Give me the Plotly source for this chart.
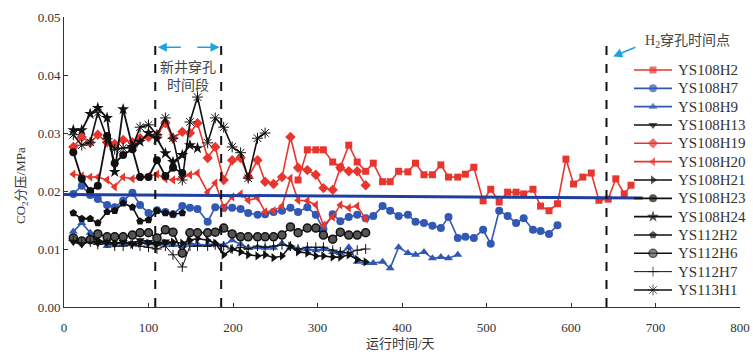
import plotly.graph_objects as go

# ---------------- data ----------------
days_a = [11, 21, 31, 40, 51, 60, 70, 81, 90, 100, 110, 120, 129, 140, 149, 158, 170, 179,
          189, 199, 209, 218, 229, 238, 248, 258, 268, 277, 288, 298, 307, 318, 327, 337, 347, 357]
days_b = [366, 377, 386, 396, 407, 416, 426, 436, 446, 455, 466, 475, 485, 496, 505, 515,
          525, 535, 544, 555, 564, 574, 584]

ys108h2_days = [277, 288, 298, 307, 318, 327, 337, 347, 357, 366, 377, 386, 396, 407, 416, 426,
                436, 446, 455, 466, 475, 485, 496, 505, 515, 525, 535, 544, 555, 564, 574, 584,
                594, 603, 614, 624, 633, 644, 653, 663, 671]
ys108h2 = [0.0219, 0.0271, 0.0271, 0.0271, 0.0250, 0.0241, 0.0279, 0.0250, 0.0234, 0.0248,
           0.0216, 0.0216, 0.0234, 0.0233, 0.0248, 0.0228, 0.0228, 0.0245, 0.0224, 0.0224,
           0.0229, 0.0241, 0.0183, 0.0203, 0.0181, 0.0198, 0.0198, 0.0195, 0.0203, 0.0174,
           0.0166, 0.0178, 0.0255, 0.0212, 0.0224, 0.0231, 0.0184, 0.0186, 0.0221, 0.0195, 0.0210]

ys108h7_days = days_a + days_b
ys108h7 = [0.0195, 0.0209, 0.0193, 0.0186, 0.0176, 0.0172, 0.0183, 0.0197, 0.0176, 0.0162,
           0.0167, 0.0164, 0.0160, 0.0174, 0.0171, 0.0169, 0.0147, 0.0172, 0.0171, 0.0171,
           0.0169, 0.0162, 0.0159, 0.0160, 0.0164, 0.0166, 0.0171, 0.0164, 0.0172, 0.0159,
           0.0134, 0.0160, 0.0148, 0.0155, 0.0159, 0.0153,
           0.0157, 0.0174, 0.0166, 0.0157, 0.0159, 0.0147, 0.0145, 0.0140, 0.0136, 0.0155,
           0.0119, 0.0121, 0.0119, 0.0133, 0.0109, 0.0166, 0.0157, 0.0145, 0.0153, 0.0133,
           0.0131, 0.0126, 0.0141]

ys108h9_days = days_a + days_b[:11]
ys108h9 = [0.0130, 0.0145, 0.0128, 0.0115, 0.0105, 0.0112, 0.0110, 0.0108, 0.0112, 0.0110,
           0.0108, 0.0110, 0.0107, 0.0105, 0.0110, 0.0108, 0.0107, 0.0110, 0.0107, 0.0115,
           0.0108, 0.0102, 0.0103, 0.0102, 0.0102, 0.0110, 0.0103, 0.0100, 0.0100, 0.0098,
           0.0100, 0.0095, 0.0093, 0.0103, 0.0078, 0.0076,
           0.0076, 0.0078, 0.0067, 0.0103, 0.0093, 0.0090, 0.0095, 0.0084, 0.0086, 0.0084, 0.0090]

ys108h13_days = days_a[:13]
ys108h13 = [0.0112, 0.0108, 0.0115, 0.0110, 0.0113, 0.0108, 0.0112, 0.0110, 0.0115, 0.0112,
            0.0110, 0.0113, 0.0110]

ys108h19_days = days_a
ys108h19 = [0.0276, 0.0293, 0.0283, 0.0297, 0.0284, 0.0281, 0.0288, 0.0284, 0.0291, 0.0293,
            0.0297, 0.0317, 0.0291, 0.0302, 0.0300, 0.0317, 0.0257, 0.0276, 0.0219, 0.0253,
            0.0257, 0.0224, 0.0253, 0.0216, 0.0212, 0.0224, 0.0293, 0.0240, 0.0236, 0.0228,
            0.0205, 0.0202, 0.0240, 0.0234, 0.0234, 0.0210]

ys108h20_days = days_a
ys108h20 = [0.0229, 0.0226, 0.0224, 0.0224, 0.0219, 0.0207, 0.0224, 0.0221, 0.0224, 0.0226,
            0.0229, 0.0221, 0.0219, 0.0224, 0.0228, 0.0231, 0.0198, 0.0214, 0.0171, 0.0190,
            0.0195, 0.0184, 0.0188, 0.0164, 0.0166, 0.0174, 0.0222, 0.0184, 0.0183, 0.0176,
            0.0141, 0.0155, 0.0176, 0.0171, 0.0174, 0.0152]

ys108h21_days = days_a
ys108h21 = [0.0118, 0.0112, 0.0120, 0.0115, 0.0112, 0.0110, 0.0112, 0.0108, 0.0110, 0.0110,
            0.0108, 0.0110, 0.0112, 0.0110, 0.0115, 0.0118, 0.0115, 0.0110, 0.0090, 0.0100,
            0.0095, 0.0090, 0.0088, 0.0090, 0.0085, 0.0088, 0.0105, 0.0095, 0.0093, 0.0088,
            0.0088, 0.0086, 0.0086, 0.0090, 0.0082, 0.0078]

ys108h23_days = days_a[:14]
ys108h23 = [0.0267, 0.0221, 0.0200, 0.0209, 0.0295, 0.0248, 0.0262, 0.0272, 0.0224, 0.0224,
            0.0253, 0.0226, 0.0240, 0.0231]

ys108h24_days = days_a[:16]
ys108h24 = [0.0305, 0.0305, 0.0333, 0.0343, 0.0326, 0.0233, 0.0341, 0.0276, 0.0285, 0.0300,
            0.0290, 0.0265, 0.0250, 0.0262, 0.0279, 0.0274]

ys112h2_days = days_a[:14]
ys112h2 = [0.0162, 0.0152, 0.0152, 0.0145, 0.0164, 0.0166, 0.0179, 0.0172, 0.0148, 0.0150,
           0.0166, 0.0162, 0.0160, 0.0162]

ys112h6_days = days_a
ys112h6 = [0.0119, 0.0114, 0.0116, 0.0126, 0.0121, 0.0121, 0.0121, 0.0124, 0.0128, 0.0128,
           0.0119, 0.0133, 0.0129, 0.0093, 0.0128, 0.0128, 0.0128, 0.0129, 0.0136, 0.0126,
           0.0121, 0.0121, 0.0121, 0.0121, 0.0121, 0.0124, 0.0138, 0.0128, 0.0136, 0.0136,
           0.0124, 0.0117, 0.0129, 0.0124, 0.0124, 0.0128]

ys112h7_days = days_a
ys112h7 = [0.0115, 0.0110, 0.0112, 0.0108, 0.0110, 0.0105, 0.0105, 0.0108, 0.0105, 0.0103,
           0.0100, 0.0105, 0.0090, 0.0069, 0.0105, 0.0105, 0.0105, 0.0107, 0.0105, 0.0100,
           0.0103, 0.0100, 0.0105, 0.0103, 0.0105, 0.0107, 0.0105, 0.0100, 0.0103, 0.0103,
           0.0103, 0.0098, 0.0095, 0.0093, 0.0098, 0.0100]

ys113h1_days = days_a[:24]
ys113h1 = [0.0297, 0.0279, 0.0284, 0.0335, 0.0290, 0.0272, 0.0274, 0.0276, 0.0310, 0.0314,
           0.0297, 0.0326, 0.0291, 0.0219, 0.0319, 0.0362, 0.0283, 0.0326, 0.0310, 0.0276,
           0.0266, 0.0222, 0.0291, 0.0300]

trend_days = [0, 685]
trend_vals = [0.0194, 0.0188]

window_days = [108, 186]      # 新井穿孔时间段
h2_day = 642                  # H2穿孔时间点

# ---------------- style ----------------
RED = "#e8352e"
BLUE = "#3158b5"
BLACK = "#111111"
FONT = "Liberation Serif, Times New Roman, Noto Sans CJK SC, serif"

W, H = 753, 355
ML, MR, MT, MB = 64, 13, 17, 48
PW, PH = W - ML - MR, H - MT - MB

series = [
    ("YS108H2", ys108h2_days, ys108h2, RED, "square", 7, 1.6),
    ("YS108H7", ys108h7_days, ys108h7, BLUE, "circle", 8, 1.6),
    ("YS108H9", ys108h9_days, ys108h9, BLUE, "triangle-up", 8, 1.6),
    ("YS108H13", ys108h13_days, ys108h13, BLACK, "triangle-down", 8, 1.6),
    ("YS108H19", ys108h19_days, ys108h19, RED, "diamond", 8, 1.6),
    ("YS108H20", ys108h20_days, ys108h20, RED, "triangle-left", 8, 1.6),
    ("YS108H21", ys108h21_days, ys108h21, BLACK, "triangle-right", 8, 1.6),
    ("YS108H23", ys108h23_days, ys108h23, BLACK, "circle", 8, 1.8),
    ("YS108H24", ys108h24_days, ys108h24, BLACK, "star", 9, 1.8),
    ("YS112H2", ys112h2_days, ys112h2, BLACK, "pentagon", 8, 1.6),
    ("YS112H6", ys112h6_days, ys112h6, BLACK, "circle", 8, 1.6),
    ("YS112H7", ys112h7_days, ys112h7, BLACK, "cross-thin", 7, 1.0),
    ("YS113H1", ys113h1_days, ys113h1, BLACK, "asterisk", 9, 1.6),
]


def marker_for(name, color, sym, size):
    if name == "YS112H6":
        return dict(symbol="circle", size=size, color="#555555", line=dict(width=1.5, color=BLACK))
    if sym in ("cross-thin", "asterisk"):
        return dict(symbol=sym + "-open", size=size, color=color, line=dict(width=1, color=color))
    return dict(symbol=sym, size=size, color=color, line=dict(width=0, color=color))


def px_paper(px, py):
    """screen pixel -> paper coordinates"""
    return (px - ML) / PW, (H - MB - py) / PH


fig = go.Figure()
for name, xs, ys, color, sym, size, lw in series:
    fig.add_trace(go.Scatter(x=xs, y=ys, mode="lines+markers", name=name, showlegend=False,
                             line=dict(color=color, width=lw), marker=marker_for(name, color, sym, size)))

fig.add_trace(go.Scatter(x=trend_days, y=trend_vals, mode="lines", showlegend=False,
                         line=dict(color="#1f3f9e", width=3), hoverinfo="skip"))

# ---- custom legend drawn in an overlay axis measured in screen pixels ----
LEG_X0, LEG_X1, LEG_TXT = 634, 672, 676
LEG_Y0, LEG_DY = 70, 18.33
annotations = []
for i, (name, xs, ys, color, sym, size, lw) in enumerate(series):
    yy = LEG_Y0 + i * LEG_DY
    m = dict(marker_for(name, color, sym, size))
    m["size"] = [0, size, 0]
    fig.add_trace(go.Scatter(x=[LEG_X0, (LEG_X0 + LEG_X1) / 2, LEG_X1], y=[yy, yy, yy],
                             xaxis="x2", yaxis="y2", mode="lines+markers", showlegend=False,
                             line=dict(color=color, width=lw), marker=m, hoverinfo="skip",
                             cliponaxis=False))
    tx, ty = px_paper(LEG_TXT, yy)
    annotations.append(dict(x=tx, y=ty, xref="paper", yref="paper", text=name, showarrow=False,
                            xanchor="left", yanchor="middle",
                            font=dict(family=FONT, size=15, color="#333")))

# axis titles (placed in screen pixels)
xt = px_paper(400, 343)
yt = px_paper(22, 186)
annotations += [
    dict(x=xt[0], y=xt[1], xref="paper", yref="paper", text="运行时间/天", showarrow=False,
         xanchor="center", yanchor="middle", font=dict(family=FONT, size=13, color="#333")),
    dict(x=yt[0], y=yt[1], xref="paper", yref="paper", text="CO<sub>2</sub>分压/MPa",
         showarrow=False, textangle=-90, xanchor="center", yanchor="middle",
         font=dict(family=FONT, size=13, color="#333")),
]

shapes = []
for d in window_days:
    shapes.append(dict(type="line", xref="x", yref="y", x0=d, x1=d, y0=0, y1=0.0455,
                       line=dict(color=BLACK, width=2, dash="dash")))
shapes.append(dict(type="line", xref="x", yref="y", x0=h2_day, x1=h2_day, y0=0, y1=0.045,
                   line=dict(color=BLACK, width=2, dash="dash")))

CYAN = "#1aa3e0"
annotations += [
    dict(x=147, y=0.0398, xref="x", yref="y", text="新井穿孔<br>时间段", showarrow=False,
         font=dict(family=FONT, size=14, color="#444")),
    dict(x=111, y=0.0448, ax=140, ay=0.0448, xref="x", yref="y", axref="x", ayref="y",
         text="", showarrow=True, arrowhead=2, arrowsize=1.2, arrowwidth=1.5, arrowcolor=CYAN),
    dict(x=184, y=0.0448, ax=156, ay=0.0448, xref="x", yref="y", axref="x", ayref="y",
         text="", showarrow=True, arrowhead=2, arrowsize=1.2, arrowwidth=1.5, arrowcolor=CYAN),
    dict(x=650, y=0.0432, ax=678, ay=0.0449, xref="x", yref="y", axref="x", ayref="y",
         text="", showarrow=True, arrowhead=2, arrowsize=1.2, arrowwidth=1.5, arrowcolor=CYAN),
    dict(x=738, y=0.0457, xref="x", yref="y", text="H<sub>2</sub>穿孔时间点",
         showarrow=False, font=dict(family=FONT, size=14, color="#444")),
]

fig.update_layout(
    width=W, height=H,
    margin=dict(l=ML, r=MR, t=MT, b=MB, autoexpand=False),
    paper_bgcolor="white", plot_bgcolor="white",
    font=dict(family=FONT, size=13, color="#333"),
    shapes=shapes, annotations=annotations,
    showlegend=False,
    xaxis2=dict(overlaying="x", anchor="y2", range=[ML, W - MR], visible=False,
                fixedrange=True),
    yaxis2=dict(overlaying="y", anchor="x2", range=[H - MB, MT], visible=False,
                fixedrange=True),
)
fig.layout.xaxis.update(range=[0, 800], dtick=100, tick0=0, showgrid=False, zeroline=False,
                        showline=True, linecolor="#333", linewidth=1, ticks="inside", ticklen=4,
                        tickcolor="#333", automargin=False, tickfont=dict(size=13),
                        ticklabelstandoff=8)
fig.layout.yaxis.update(range=[0, 0.05], dtick=0.01, tick0=0, tickformat=".2f", showgrid=False,
                        zeroline=False, showline=True, linecolor="#333", linewidth=1,
                        ticks="inside", ticklen=4, tickcolor="#333", automargin=False,
                        tickfont=dict(size=13))

fig.write_html("out.html", config={"displayModeBar": False},
               post_script="document.body.style.margin='0';document.body.style.overflow='hidden';")
